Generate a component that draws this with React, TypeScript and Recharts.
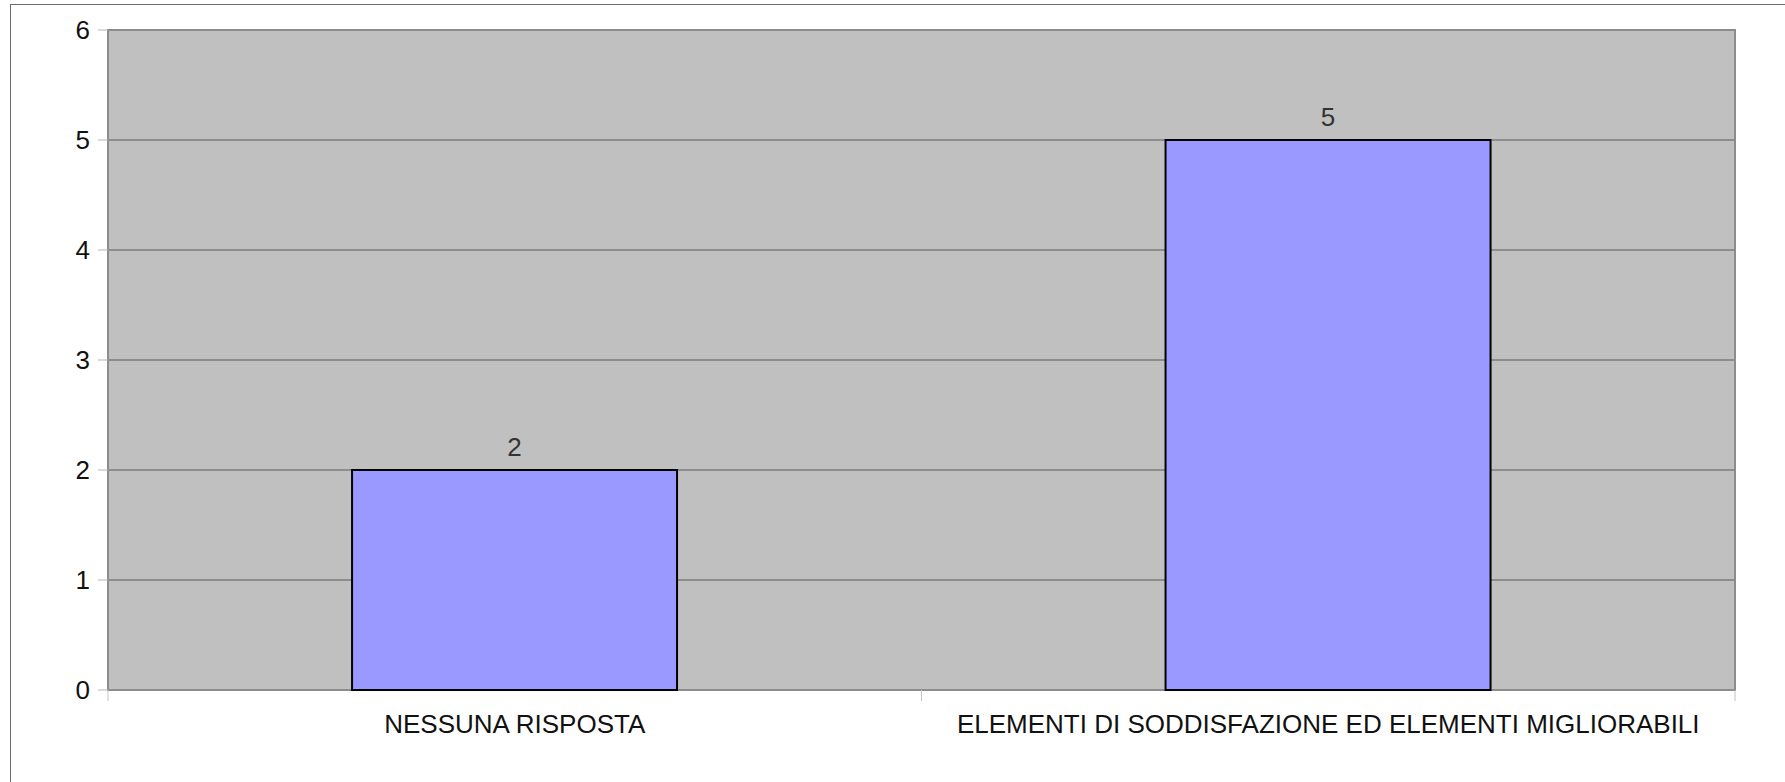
import React from "react";
import { BarChart, Bar, XAxis, YAxis, CartesianGrid, LabelList, ReferenceArea } from "recharts";

const categories = ["NESSUNA RISPOSTA", "ELEMENTI DI SODDISFAZIONE ED ELEMENTI MIGLIORABILI"];
const values = [2, 5];
const yTicks = [0, 1, 2, 3, 4, 5, 6];

const data = categories.map((name, i) => ({ name, value: values[i] }));

const FONT = "'Liberation Sans', Arial, sans-serif";

const CategoryTick = (props: any) => {
  const { x, y, payload } = props;
  const half = Number(payload && payload.offset) || 0;
  return (
    <g>
      <line x1={x - half} x2={x - half} y1={y} y2={y + 11} stroke="#c4c4c4" strokeWidth={1} />
      <line x1={x + half} x2={x + half} y1={y} y2={y + 11} stroke="#c4c4c4" strokeWidth={1} />
      <text x={x} y={y + 43} textAnchor="middle" fill="#111" fontSize={26} fontFamily={FONT}>
        {payload.value}
      </text>
    </g>
  );
};

export default function App() {
  return (
    <div style={{ position: "absolute", left: 0, top: 0, width: 1785, height: 782, overflow: "hidden", background: "#fff" }}>
      <div
        style={{
          position: "absolute",
          left: 10,
          top: 4,
          width: 1800,
          height: 800,
          border: "1.5px solid #6a6a6a",
          boxSizing: "border-box",
        }}
      />
      <div style={{ position: "absolute", left: 0, top: 0 }}>
        <BarChart
          width={1785}
          height={782}
          data={data}
          margin={{ top: 30, right: 50, bottom: 0, left: 0 }}
          barCategoryGap="30%"
        >
          <CartesianGrid vertical={false} horizontal={true} fill="#c0c0c0" stroke="#5a5a5a" strokeWidth={1} />
          <XAxis
            dataKey="name"
            type="category"
            interval={0}
            height={92}
            tickSize={0}
            tickMargin={0}
            tickLine={false}
            axisLine={false}
            tick={<CategoryTick />}
          />
          <YAxis
            type="number"
            domain={[0, 6]}
            ticks={yTicks}
            interval={0}
            width={108}
            tickSize={10}
            tickMargin={8}
            axisLine={false}
            tickLine={{ stroke: "#b5b5b5" }}
            tick={{ fill: "#111", fontSize: 26, fontFamily: FONT }}
          />
          <ReferenceArea
            x1={categories[0]}
            x2={categories[categories.length - 1]}
            y1={0}
            y2={6}
            fill="none"
            fillOpacity={0}
            stroke="#8c8c8c"
            strokeWidth={2}
          />
          <Bar dataKey="value" fill="#9999ff" stroke="#000" strokeWidth={2} isAnimationActive={false}>
            <LabelList dataKey="value" position="top" offset={14} fill="#333" fontSize={26} fontFamily={FONT} />
          </Bar>
        </BarChart>
      </div>
    </div>
  );
}
